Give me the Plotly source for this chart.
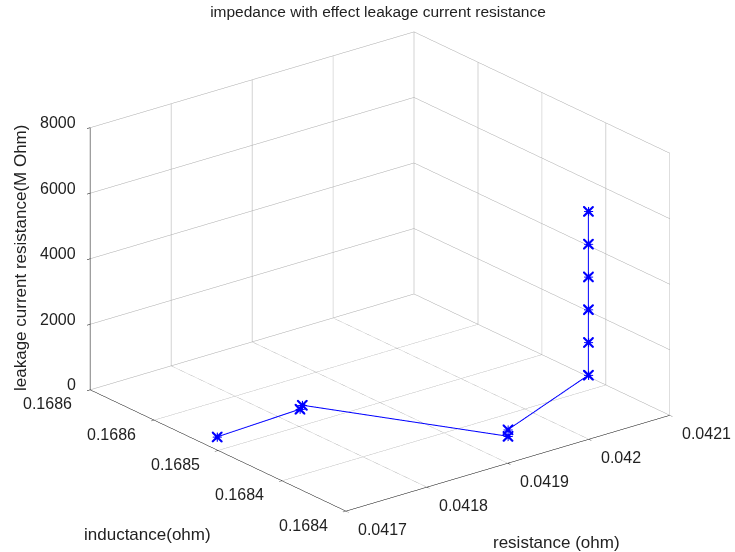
import plotly.graph_objects as go
import math

# data
resistance = [0.041721, 0.041828, 0.041834, 0.041938, 0.041938,
              0.04205, 0.04205, 0.04205, 0.04205, 0.04205, 0.04205]
inductance = [0.168514, 0.168517, 0.168519, 0.168424, 0.168424,
              0.168432, 0.168432, 0.168432, 0.168432, 0.168432, 0.168432]
leakage = [1, 10, 50, 100, 300, 1000, 2000, 3000, 4000, 5000, 6000]

x_ticks = [0.0417, 0.0418, 0.0419, 0.0420, 0.0421]
x_text = ["0.0417", "0.0418", "0.0419", "0.042", "0.0421"]
y_ticks = [0.1684, 0.16845, 0.1685, 0.16855, 0.1686]
y_text = ["0.1684", "0.1684", "0.1685", "0.1686", "0.1686"]
z_ticks = [0, 2000, 4000, 6000, 8000]
z_text = ["0", "2000", "4000", "6000", "8000"]

x_range = [0.0417, 0.0421]
y_range = [0.1684, 0.1686]
z_range = [0, 8000]

blue = "#0000ff"
fig = go.Figure()
fig.add_trace(go.Scatter3d(x=resistance, y=inductance, z=leakage, mode="lines+markers",
                           line=dict(color=blue, width=2),
                           marker=dict(symbol="cross", size=5, color=blue),
                           showlegend=False, hoverinfo="skip"))
fig.add_trace(go.Scatter3d(x=resistance, y=inductance, z=leakage, mode="markers",
                           marker=dict(symbol="x", size=2.5, color=blue),
                           showlegend=False, hoverinfo="skip"))

FAM = "Liberation Sans, Arial"
tick_font = dict(family=FAM, size=16, color="#222222")
label_font = dict(family=FAM, size=17, color="#222222")
axis_common = dict(showbackground=False, showgrid=True, gridcolor="#a8a8a8", gridwidth=1,
                   showline=True, linecolor="black", linewidth=1, zeroline=False,
                   ticks="outside", ticklen=4, tickcolor="black", showspikes=False,
                   showticklabels=False, title=dict(text=""))

# tick labels placed like the original (horizontal, beside each tick)
scene_ann = []
for v, t in zip(x_ticks, x_text):
    scene_ann.append(dict(x=v, y=y_range[0], z=z_range[0], text=t, showarrow=False,
                          xanchor="left", yanchor="middle", xshift=10, yshift=-18, font=tick_font))
for v, t in zip(y_ticks, y_text):
    scene_ann.append(dict(x=x_range[0], y=v, z=z_range[0], text=t, showarrow=False,
                          xanchor="right", yanchor="middle", xshift=-16, yshift=-14, font=tick_font))
for v, t in zip(z_ticks, z_text):
    scene_ann.append(dict(x=x_range[0], y=y_range[1], z=v, text=t, showarrow=False,
                          xanchor="right", yanchor="middle", xshift=-12, yshift=5, font=tick_font))

az = math.radians(38.3)
el = math.radians(22.0)
r = 2.0
eye = dict(x=-r * math.sin(az) * math.cos(el), y=-r * math.cos(az) * math.cos(el), z=r * math.sin(el))

k = 1.52
fig.update_layout(
    width=735, height=552, paper_bgcolor="white", plot_bgcolor="white",
    margin=dict(l=0, r=0, t=0, b=0),
    title=dict(text="impedance with effect leakage current resistance", x=378 / 735, y=1 - 12 / 552,
               xanchor="center", yanchor="middle", font=dict(family=FAM, size=15.5, color="#222222")),
    scene=dict(
        domain=dict(x=[0.034, 1.0], y=[0.016, 1.0]),
        xaxis=dict(axis_common, range=x_range, tickvals=x_ticks, ticktext=x_text),
        yaxis=dict(axis_common, range=y_range, tickvals=y_ticks, ticktext=y_text),
        zaxis=dict(axis_common, range=z_range, tickvals=z_ticks, ticktext=z_text),
        aspectmode="manual", aspectratio=dict(x=1 * k, y=1 * k, z=0.685 * k),
        camera=dict(eye=eye, up=dict(x=0, y=0, z=1), center=dict(x=0, y=0, z=0),
                    projection=dict(type="orthographic")),
        annotations=scene_ann,
    ),
    annotations=[
        dict(text="resistance (ohm)", x=556 / 735, y=1 - 542 / 552, xref="paper", yref="paper",
             showarrow=False, font=label_font, xanchor="center", yanchor="middle"),
        dict(text="inductance(ohm)", x=147 / 735, y=1 - 534 / 552, xref="paper", yref="paper",
             showarrow=False, font=label_font, xanchor="center", yanchor="middle"),
        dict(text="leakage current resistance(M Ohm)", x=20 / 735, y=1 - 258 / 552, xref="paper", yref="paper",
             showarrow=False, font=label_font, textangle=-90, xanchor="center", yanchor="middle"),
    ],
)

fig.write_html("out.html")
